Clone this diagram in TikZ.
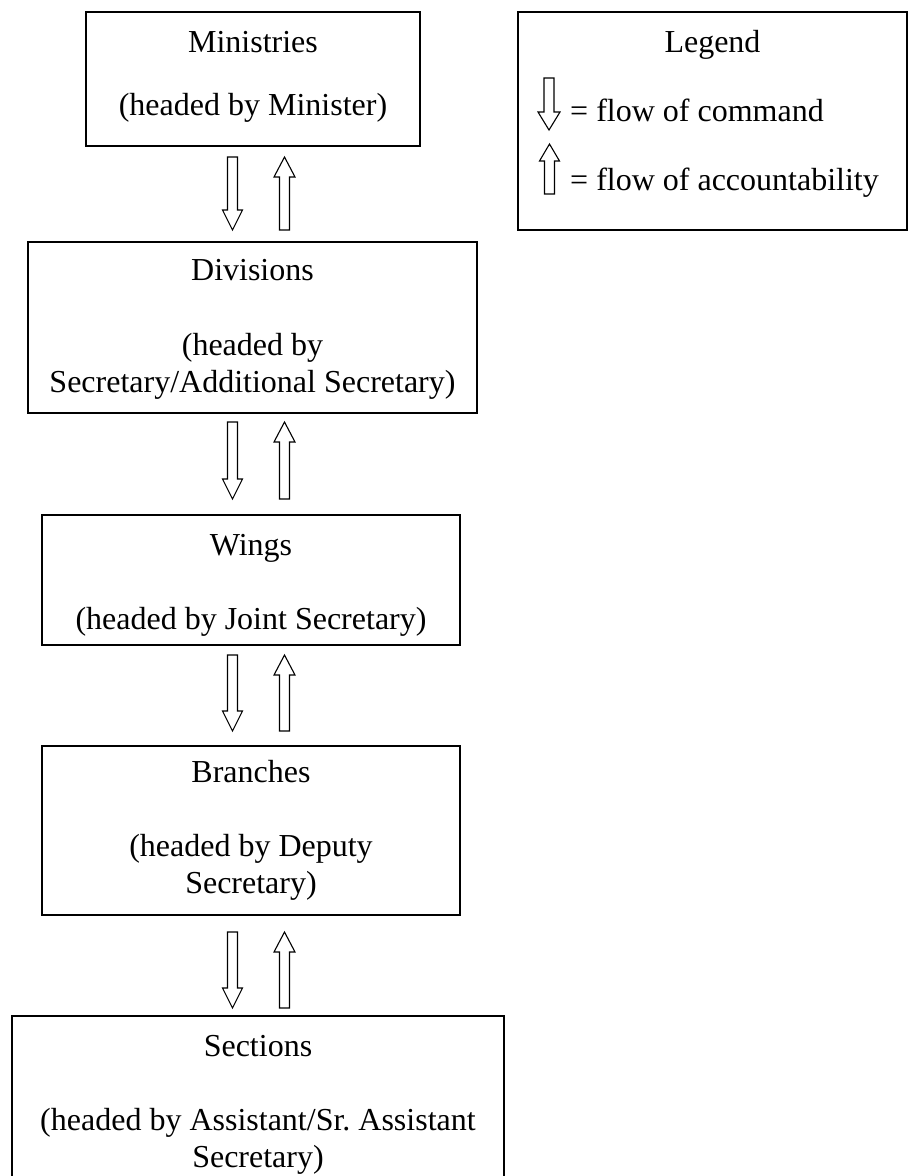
\documentclass[tikz,border=0pt]{standalone}
\usepackage{fontspec}
\setmainfont{Liberation Serif}
\frenchspacing
\tikzset{
  orgbox/.style={draw, line width=1.2pt, inner sep=0pt, align=center,
    font=\fontsize{32}{37}\selectfont},
  lgtext/.style={inner sep=0pt, font=\fontsize{32}{37}\selectfont},
  blk/.style={draw, line width=1.1pt, fill=white, line join=miter},
}
% down block arrow: center x, top y, tip y, shaft half width, head half width, head length
\newcommand\ArrDown[6]{\draw[blk] ({#1-#4},#2) -- ({#1+#4},#2) -- ({#1+#4},{#3-#6}) -- ({#1+#5},{#3-#6}) -- (#1,#3) -- ({#1-#5},{#3-#6}) -- ({#1-#4},{#3-#6}) -- cycle;}
% up block arrow: center x, apex y, bottom y, shaft half width, head half width, head length
\newcommand\ArrUp[6]{\draw[blk] (#1,#2) -- ({#1+#5},{#2+#6}) -- ({#1+#4},{#2+#6}) -- ({#1+#4},#3) -- ({#1-#4},#3) -- ({#1-#4},{#2+#6}) -- ({#1-#5},{#2+#6}) -- cycle;}
\begin{document}
\begin{tikzpicture}[x=1pt,y=-1pt]
\clip (0,0) rectangle (909,1176);
\fill[white] (0,0) rectangle (909,1176);

\node[orgbox, minimum width=334pt, minimum height=134pt] (min) at (253,79)
  {Ministries\\[26pt](headed by Minister)\rule[-12pt]{0pt}{1pt}};
\node[orgbox, minimum width=449pt, minimum height=171pt] (div) at (252.5,327.5)
  {\rule{0pt}{25pt}Divisions\\[38pt](headed by\\Secretary/Additional Secretary)};
\node[orgbox, minimum width=418pt, minimum height=130pt] (wing) at (251,580)
  {\rule{0pt}{31.5pt}Wings\\[37pt](headed by Joint Secretary)};
\node[orgbox, minimum width=418pt, minimum height=169pt] (br) at (251,830.5)
  {Branches\\[37pt](headed by Deputy\\Secretary)};
\node[orgbox, minimum width=492pt, minimum height=177pt] (sec) at (258,1104.5)
  {Sections\\[37pt](headed by Assistant/Sr.\ Assistant\\Secretary)};

% legend
\node[draw, line width=1.2pt, minimum width=389pt, minimum height=218pt, inner sep=0pt] (legend) at (712.5,121) {};
\node[lgtext, anchor=base] (lgtitle) at (712.5,52) {Legend};
\node[lgtext, anchor=base west] (lgcmd) at (570,121) {= flow of command};
\node[lgtext, anchor=base west] (lgacc) at (570,190) {= flow of accountability};
\ArrDown{549}{78}{130}{5}{11}{18}
\ArrUp{549.5}{144}{194}{5}{10}{17}

% command / accountability arrows between levels
\ArrDown{232.5}{157}{230}{5}{10}{20}
\ArrUp{284.5}{157}{230}{5}{10.5}{20}
\ArrDown{232.5}{422}{499}{5}{10}{20}
\ArrUp{284.5}{422}{499}{5}{10.5}{20}
\ArrDown{232.5}{655}{731}{5}{10}{20}
\ArrUp{284.5}{655}{731}{5}{10.5}{20}
\ArrDown{232.5}{932}{1008}{5}{10}{20}
\ArrUp{284.5}{932}{1008}{5}{10.5}{20}
\end{tikzpicture}
\end{document}
